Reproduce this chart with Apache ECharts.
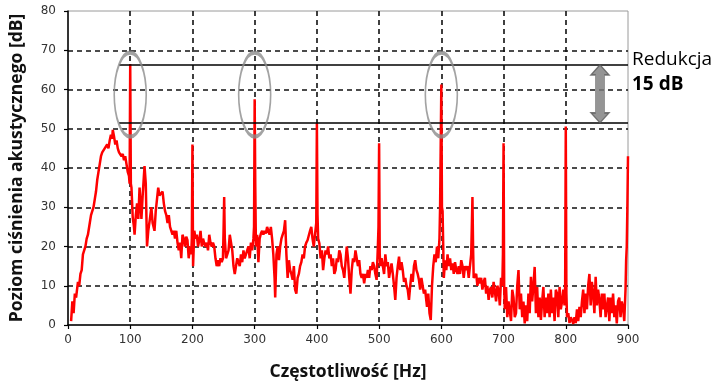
<!DOCTYPE html>
<html><head><meta charset="utf-8">
<script src="https://cdn.jsdelivr.net/npm/echarts@6/dist/echarts.min.js"></script>
<style>html,body{margin:0;padding:0;background:#fff}#c{width:725px;height:386px}</style>
</head><body><div id="c"></div>
<script>
// Sound pressure spectrum: [frequency Hz, level dB]
var spectrum = [
[5,1],[7,6],[9,3],[11,8],[13,7],[16,11],[18,10],[20,13],[22,14],[24,18],[26,19],[28,20],[30,22],[32,23],[35,26],[37,28],[39,29],[41,30],[43,32],[45,34],[47,37],[49,39],[51,41],[53,43],[55,44],[57,43.5],[59,45],[61,45.5],[63,46],[65,45],[67,47],[69,48.5],[71,47.5],[72,49.7],[74,48],[76,46],[78,47],[80,45],[82,44],[84,44.5],[86,43],[88,43.6],[90,42],[92,43],[94,41],[96,39],[98,38],[99,36],[100,66.5],[101,36],[102,35],[104,27.5],[106,25],[107,23],[109,28],[111,31],[113,27],[115,35],[117,30],[118,27],[120,33],[122,38],[123,40.5],[125,36],[127,20],[129,24],[132,27.5],[134,30],[136,26],[139,24],[141,29],[143,32],[145,35],[147,33],[150,32.7],[152,34],[154,31],[156,29],[158,28],[160,26],[162,28],[164,25],[166,25],[168,23],[170,24],[172,22],[174,24],[176,21],[178,19],[180,21],[182,17],[184,23],[186,22],[188,20],[190,22.5],[192,21.6],[194,17],[196,20],[198,18],[199,22],[200,46],[201,15],[203,24],[205,22],[207,23],[209,20],[211,21.6],[213,24],[215,20],[217,22],[219,20.8],[221,20],[223,21],[225,19],[227,23],[229,21],[231,20],[233,21],[235,20],[237,17],[239,15],[241,16.5],[243,15],[245,17],[247,16],[249,17],[250,24],[251,32.6],[252,22],[254,17],[256,16.5],[258,19],[260,23],[262,23],[264,19],[266,15],[268,13],[270,15],[272,17],[274,17],[276,15],[278,18],[280,16],[282,19],[284,17],[286,18],[288,19],[290,20],[292,17],[294,21],[296,19],[298,22],[299,25],[300,57.5],[301,35],[302,20],[304,23],[306,16],[308,22],[310,23.3],[312,24],[314,23],[316,24],[318,23.3],[320,25],[322,24],[324,23],[326,25],[328,22],[330,18],[332,12],[333,7],[335,18],[337,20],[339,16.5],[341,20],[343,22],[345,23],[347,24],[349,26.7],[351,18],[353,12],[355,16.5],[357,14],[359,13],[361,11.5],[363,15],[365,9],[367,8],[369,12],[371,13],[373,15],[375,16],[377,18],[379,17],[381,20],[383,21],[385,21.6],[387,22],[389,24],[391,25],[393,22],[395,20],[397,23],[399,26],[400,51.4],[401,28],[402,22],[404,20.8],[406,17],[408,19],[410,14],[412,17],[414,19],[416,18],[418,20],[420,17],[422,18],[424,15],[426,17],[428,13],[430,14],[432,17],[434,16],[436,19],[438,18],[440,15],[442,14],[444,12],[446,16],[448,20],[450,17],[452,12],[454,8],[456,14],[458,17],[460,16],[462,19],[464,17],[466,15],[468,16.5],[470,13],[472,12],[474,13],[476,10.6],[478,13],[480,12],[482,14],[484,12],[486,15],[488,14],[490,16],[492,15],[494,13],[496,11.5],[498,20],[499,25],[500,46.3],[501,18],[502,15],[504,17],[506,15],[508,13],[510,18],[512,15],[514,16],[516,12],[518,14],[520,15.7],[522,13],[524,10],[526,6.4],[528,12],[530,15],[532,17.4],[534,14],[536,16],[538,14],[540,11],[542,12],[544,10],[546,9],[548,6.4],[550,10],[552,13],[554,11],[556,15],[558,16.5],[560,14],[562,13],[564,11.5],[566,9],[568,12],[570,10],[572,8],[574,9],[576,6],[577,4.6],[579,8],[581,3],[583,1.3],[585,10],[587,15],[589,18],[591,16],[593,20],[595,17],[597,22],[598,30],[599,30],[600,61.3],[601,30],[602,29],[604,12],[606,16.5],[608,14],[610,18],[612,15],[614,17],[616,14],[618,15.7],[620,13],[622,16],[624,14],[626,13],[628,15],[630,13],[632,16.5],[634,15],[636,12],[638,15],[640,14],[642,15],[644,12],[646,15],[648,18],[649,25],[650,32.6],[651,20],[652,12],[654,11.5],[656,13],[658,10],[660,12],[662,10.6],[664,12],[666,9],[668,11],[670,12],[672,8],[674,10],[676,6.4],[678,9],[680,9.7],[682,7],[684,11],[686,11.5],[688,6],[690,10],[692,9],[694,5],[696,12],[698,10],[699,18],[700,46.3],[701,10],[702,4],[704,9.7],[706,2],[708,6],[710,5.5],[712,1],[714,9],[716,7],[718,2],[720,3],[722,10],[724,14],[726,4],[728,8],[730,2],[732,6],[734,0.4],[736,5],[738,1],[740,8],[742,3],[744,12.3],[746,6],[748,10],[750,14.8],[752,3],[754,9.7],[756,2],[758,7],[760,1.3],[762,6],[764,9.7],[766,2],[768,7],[770,3],[772,8],[774,2],[776,9],[778,3],[780,7],[782,1],[784,9],[786,8],[788,2],[790,9.7],[792,4],[794,6],[796,9],[798,5],[799,10],[800,50.6],[801,8],[802,2],[804,3],[806,0.5],[808,2],[810,1.3],[812,0.3],[814,2],[816,0.5],[818,4],[820,1],[822,4.6],[824,2],[826,6],[828,9],[830,3],[832,8],[834,4],[836,10],[838,13],[840,5],[842,11],[844,8],[846,3],[848,12.3],[850,5],[852,9],[854,6.4],[856,2],[858,8],[860,4],[862,8],[864,2],[866,4.6],[868,7],[870,1],[872,7],[874,3],[876,8],[878,2],[880,5],[882,0.4],[884,6],[886,7],[888,2],[890,6],[892,4.6],[894,1],[896,9],[897,16.5],[898,20],[899,30],[900,43]
];
var highlightedPeaksHz = [100, 300, 600];
var ellipseCenterDb = 58.7;
var reductionLevels = [66.3, 51.5];
var reductionStartHz = 82;
var arrowHz = 855;
var xTicks = [0,100,200,300,400,500,600,700,800,900];
var yTicks = [0,10,20,30,40,50,60,70,80];
var xTitle = 'Częstotliwość [Hz]';
var yTitle = 'Poziom ciśnienia akustycznego [dB]';
var noteLine1 = 'Redukcja';
var noteLine2 = '15 dB';

var chart = echarts.init(document.getElementById('c'), null, {renderer:'canvas'});
var dash = {color:'#111', width:1.6, type:[5,4]};
var ellipsePath = 'path://M50,0 A50,50 0 1,1 50,100 A50,50 0 1,1 50,0 Z';
var arrowPath = 'path://M9,0 L18,10 L13.5,10 L13.5,48 L18,48 L9,58 L0,48 L4.5,48 L4.5,10 L0,10 Z';

chart.setOption({
  animation:false,
  backgroundColor:'#fff',
  grid:{left:66.5, right:97, top:11, bottom:61, show:true, borderColor:'#9a9a9a', borderWidth:1},
  xAxis:{type:'value', min:xTicks[0], max:xTicks[xTicks.length-1], interval:100,
    name:xTitle, nameLocation:'middle', nameGap:38,
    nameTextStyle:{fontFamily:'Open Sans', fontWeight:'bold', fontSize:17.5, color:'#111'},
    axisLine:{lineStyle:{color:'#000', width:1.5}},
    axisTick:{show:true, length:4, lineStyle:{color:'#000', width:1.2}},
    axisLabel:{fontFamily:'DejaVu Sans', fontSize:12, color:'#333', margin:9},
    splitLine:{show:true, showMinLine:false, showMaxLine:false, lineStyle:dash}
  },
  yAxis:{type:'value', min:yTicks[0], max:yTicks[yTicks.length-1], interval:10,
    name:yTitle, nameLocation:'middle', nameGap:42,
    nameTextStyle:{fontFamily:'Open Sans', fontWeight:'bold', fontSize:17.5, color:'#111'},
    axisLine:{show:true, lineStyle:{color:'#000', width:1.5}},
    axisTick:{show:true, length:4, lineStyle:{color:'#000', width:1.2}},
    axisLabel:{fontFamily:'DejaVu Sans', fontSize:12, color:'#333', margin:12},
    splitLine:{show:true, showMinLine:false, showMaxLine:false, lineStyle:dash}
  },
  series:[
    {type:'line', data:spectrum, showSymbol:false, symbol:'none', z:3,
     lineStyle:{color:'#ff0000', width:2.5}, itemStyle:{color:'#ff0000'}},
    {type:'line', data:[], z:4,
     markLine:{silent:true, symbol:'none', label:{show:false},
       lineStyle:{color:'#000', width:1.6, type:'solid'},
       data:reductionLevels.map(function(v){return [{coord:[reductionStartHz, v]},{coord:[xTicks[xTicks.length-1], v]}];})}},
    {type:'scatter', z:5, data:highlightedPeaksHz.map(function(f){return [f, ellipseCenterDb];}),
     symbol:ellipsePath, symbolSize:[32,84], symbolKeepAspect:false,
     itemStyle:{color:'rgba(0,0,0,0)', borderColor:'#8c8c8c', borderWidth:2.6}},
    {type:'scatter', z:5, data:[[arrowHz, (reductionLevels[0]+reductionLevels[1])/2]],
     symbol:arrowPath, symbolSize:[18,58],
     itemStyle:{color:'#7a7a7a', borderColor:'#5a5a5a', borderWidth:1}}
  ],
  graphic:[
    {type:'text', left:632, top:50, style:{text:noteLine1, font:'19px "Open Sans"', fill:'#000'}},
    {type:'text', left:632, top:75, style:{text:noteLine2, font:'bold 19px "Open Sans"', fill:'#000'}}
  ]
});
</script></body></html>
